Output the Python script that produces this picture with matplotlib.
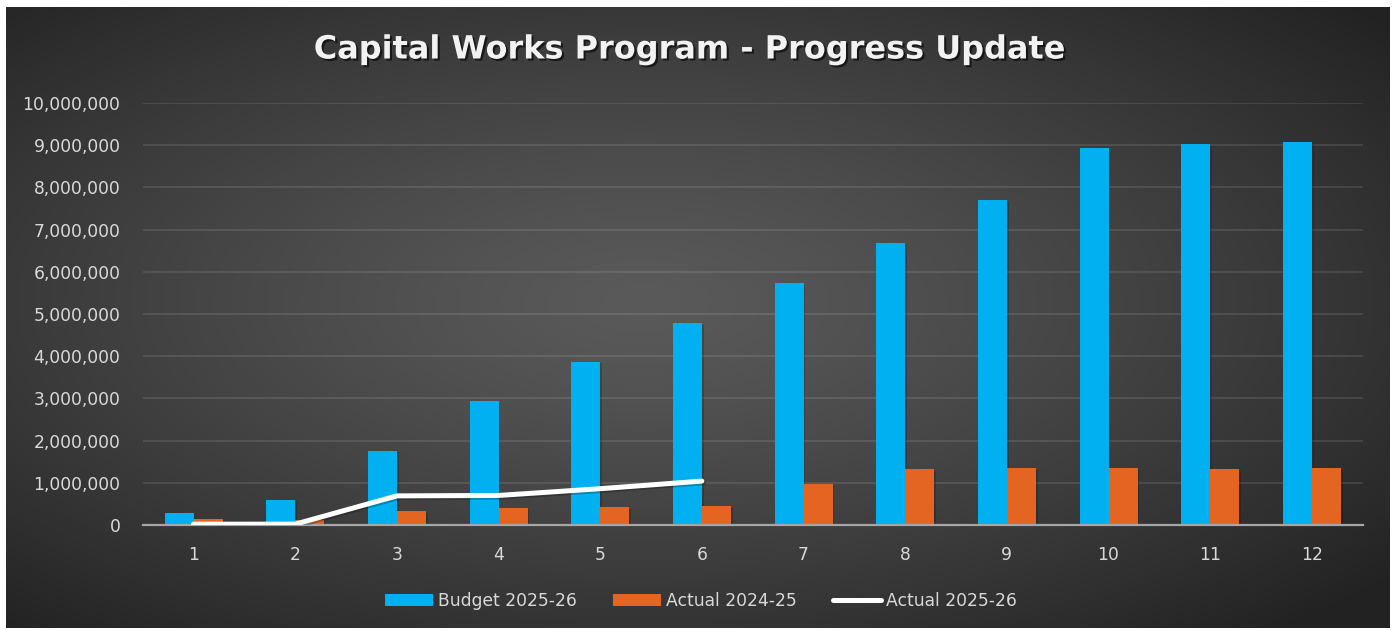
import numpy as np
import matplotlib
matplotlib.use("Agg")
import matplotlib.pyplot as plt
import matplotlib.patheffects as pe
from matplotlib.ticker import FuncFormatter

# ---- data -----------------------------------------------------------------------------------
months = [1, 2, 3, 4, 5, 6, 7, 8, 9, 10, 11, 12]
budget_2526 = [280000, 590000, 1760000, 2940000, 3870000, 4780000,
               5730000, 6690000, 7700000, 8940000, 9020000, 9070000]
actual_2425 = [140000, 120000, 330000, 410000, 420000, 450000,
               980000, 1330000, 1350000, 1340000, 1320000, 1340000]
actual_2526_months = [1, 2, 3, 4, 5, 6]
actual_2526 = [20000, 20000, 690000, 700000, 860000, 1040000]

C_BUDGET, C_PREV, C_CUR = "#00B0F0", "#E46521", "#FFFFFF"
C_TEXT = "#D9D9D9"

W, H = 1394, 630
fig = plt.figure(figsize=(W / 100, H / 100), dpi=100, facecolor="white")

# ---- dark radial-gradient card behind everything --------------------------------------------
bg = fig.add_axes([6 / W, 1 - 628 / H, (1390 - 6) / W, (628 - 7) / H], zorder=-10)
gx, gy = np.meshgrid(np.linspace(-1, 1, 700), np.linspace(-1, 1, 320))
r = np.sqrt((gx + 0.08) ** 2 + (gy + 0.05) ** 2) / np.sqrt(2)
r = np.clip(r, 0, 1)
lo, hi = 0x5A / 255, 0x22 / 255
shade = lo + (hi - lo) * r ** 1.25
bg.imshow(np.dstack([shade, shade, shade]), aspect="auto", interpolation="bilinear",
          extent=[0, 1, 0, 1])
bg.set_axis_off()

# ---- main axes ------------------------------------------------------------------------------
ax = fig.add_axes([142.7 / W, 1 - 525 / H, (1362.7 - 142.7) / W, (525 - 103) / H])
ax.set_facecolor("none")
for s in ["top", "right", "left"]:
    ax.spines[s].set_visible(False)
ax.spines["bottom"].set_color("#A6A6A6")
ax.spines["bottom"].set_linewidth(1.6)
ax.spines["bottom"].set_zorder(5)

x = np.array(months)
bw = 0.285
shadow = [pe.SimplePatchShadow(offset=(1.2, -1.2), shadow_rgbFace="black", alpha=0.18),
          pe.Normal()]
b1 = ax.bar(x - bw / 2, budget_2526, width=bw, color=C_BUDGET, label="Budget 2025-26",
            zorder=3)
b2 = ax.bar(x + bw / 2, actual_2425, width=bw, color=C_PREV, label="Actual 2024-25",
            zorder=3)
for p in list(b1) + list(b2):
    p.set_path_effects(shadow)

ln, = ax.plot(actual_2526_months, actual_2526, color=C_CUR, lw=3.6,
              solid_capstyle="round", solid_joinstyle="round", label="Actual 2025-26",
              zorder=6,
              path_effects=[pe.SimpleLineShadow(offset=(1.2, -1.2), alpha=0.25),
                            pe.Normal()])

ax.set_xlim(0.5, 12.5)
ax.set_ylim(0, 10000000)
ax.set_yticks(np.arange(0, 10000001, 1000000))
ax.yaxis.set_major_formatter(FuncFormatter(lambda v, _: f"{v:,.0f}"))
ax.set_xticks(x)
ax.set_xticklabels([str(m) for m in months])
ax.grid(axis="y", color="white", alpha=0.1, lw=1.5, zorder=0)
ax.set_axisbelow(True)
ax.tick_params(axis="both", length=0, colors=C_TEXT, labelsize=12.3)
ax.tick_params(axis="y", pad=16)
ax.tick_params(axis="x", pad=15)

# ---- title ----------------------------------------------------------------------------------
fig.text(690 / W, 1 - 50 / H, "Capital Works Program - Progress Update",
         ha="center", va="center", fontsize=23, fontweight="bold", color="#F2F2F2",
         path_effects=[pe.withSimplePatchShadow(offset=(1.5, -1.5), shadow_rgbFace="black",
                                                alpha=0.6)])

# ---- legend ---------------------------------------------------------------------------------
leg = fig.legend(handles=[b1, b2, ln], loc="center", bbox_to_anchor=(701 / W, 1 - 601 / H),
                 ncol=3, frameon=False, fontsize=12.3, labelcolor=C_TEXT,
                 handlelength=2.8, handleheight=0.75, handletextpad=0.3,
                 columnspacing=2.1)
for h in leg.legend_handles:
    h.set_path_effects([])

fig.savefig("out.png", dpi=100, facecolor="white")
